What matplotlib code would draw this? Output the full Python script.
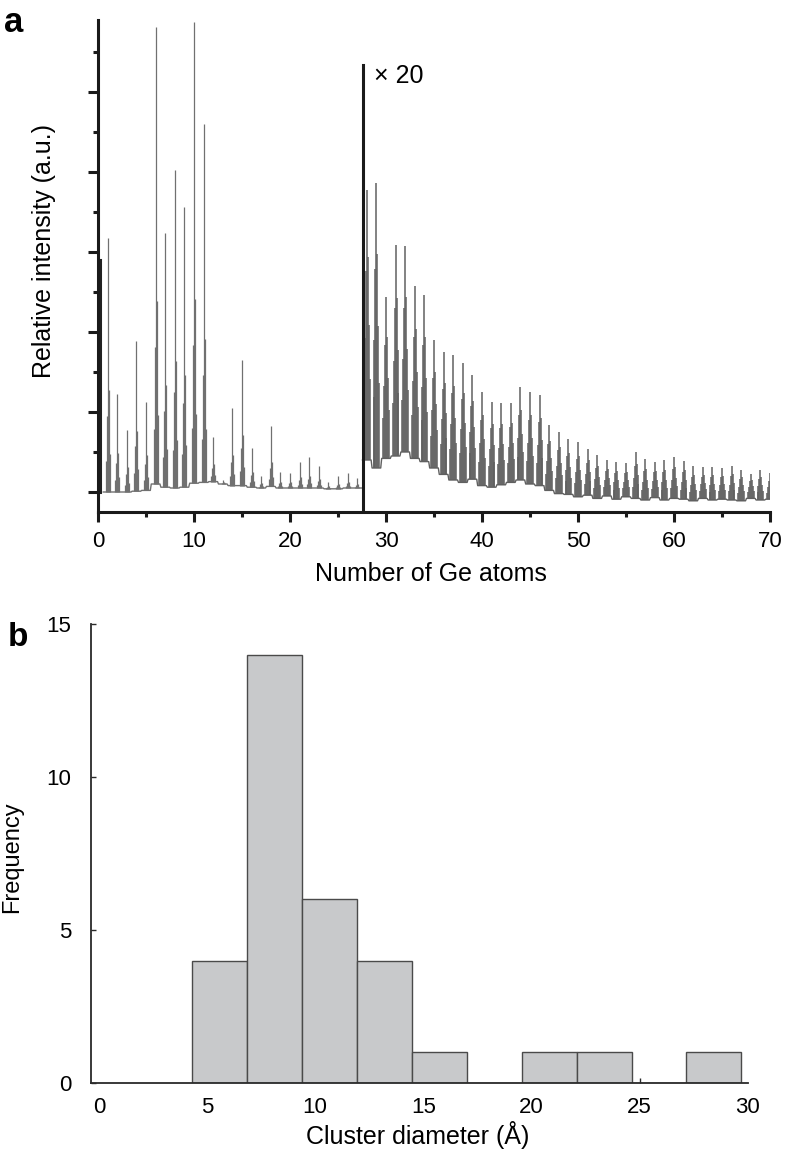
import numpy as np
import matplotlib
matplotlib.use('Agg')
from matplotlib import pyplot as plt
from matplotlib.ticker import MultipleLocator

plt.rcParams['font.family'] = ['Liberation Sans', 'DejaVu Sans']

# panel a: Ge cluster mass spectrum (peak heights per cluster size)
n_left = np.arange(1, 28)
peak_left = [3.18, 1.22, 0.77, 1.89, 1.13, 5.81, 3.24, 4.03, 3.56, 5.88,
             4.60, 0.69, 0.15, 1.05, 1.65, 0.55, 0.20, 0.83, 0.25, 0.24,
             0.38, 0.44, 0.33, 0.13, 0.20, 0.24, 0.17]
base_left = [0.00, 0.00, 0.00, 0.01, 0.02, 0.10, 0.06, 0.05, 0.06, 0.11,
             0.12, 0.13, 0.10, 0.08, 0.08, 0.06, 0.05, 0.07, 0.05, 0.05,
             0.05, 0.05, 0.05, 0.04, 0.04, 0.05, 0.05]

# region magnified x20
n_right = np.arange(28, 71)
peak_right = [3.78, 3.86, 2.44, 3.09, 3.08, 2.58, 2.46, 1.90, 1.75, 1.71,
              1.61, 1.46, 1.25, 1.12, 1.11, 1.11, 1.31, 1.25, 1.21, 0.84,
              0.75, 0.66, 0.62, 0.54, 0.46, 0.40, 0.38, 0.36, 0.50, 0.41,
              0.38, 0.40, 0.44, 0.39, 0.32, 0.31, 0.31, 0.30, 0.33, 0.28,
              0.23, 0.28, 0.24]
base_right = [0.40, 0.30, 0.42, 0.45, 0.50, 0.42, 0.38, 0.30, 0.22, 0.15,
              0.12, 0.16, 0.08, 0.06, 0.09, 0.12, 0.15, 0.10, 0.08, 0.02,
              -0.02, -0.03, -0.06, -0.04, -0.08, -0.05, -0.09, -0.06, -0.08, -0.10,
              -0.07, -0.10, -0.08, -0.09, -0.11, -0.08, -0.10, -0.09, -0.10, -0.11,
              -0.08, -0.10, -0.09]

split_at = 27.65
split_top = 5.34
extra_x, extra_h = 0.25, 2.9

# isotope patterns used to draw each cluster peak
iso_off_left = [-0.2, -0.1, 0.0, 0.1, 0.2]
iso_frac_left = [0.12, 0.3, 1.0, 0.4, 0.15]
iso_off_right = [-0.3, -0.2, -0.1, 0.0, 0.1, 0.2, 0.3]
iso_frac_right = [0.25, 0.45, 0.7, 1.0, 0.75, 0.5, 0.3]

# panel b: histogram of cluster diameters
bin_edges = [4.31, 6.85, 9.39, 11.93, 14.47, 17.01, 19.55, 22.09, 24.63, 27.17, 29.71]
counts = [4, 14, 6, 4, 1, 0, 1, 1, 0, 1]

fig = plt.figure(figsize=(7.88, 11.6), dpi=100)

ax = fig.add_axes([98 / 788, 1 - 512 / 1160, 672 / 788, 492 / 1160])

def draw_region(ns, peaks, bases, offs, fracs, lw, col):
    xs, ys = [], []
    for n, p, b in zip(ns, peaks, bases):
        xs += [n - 0.45, n + 0.45]
        ys += [b, b]
        for o, f in zip(offs, fracs):
            ax.plot([n + o, n + o], [b, b + f * (p - b)], color=col, lw=lw,
                    solid_capstyle='butt')
    ax.plot(xs, ys, color=col, lw=1.0)

draw_region(n_left, peak_left, base_left, iso_off_left, iso_frac_left, 0.9, '#707070')
draw_region(n_right, peak_right, base_right, iso_off_right, iso_frac_right, 1.1, '#606060')
ax.plot([extra_x, extra_x], [0, extra_h], color='#222222', lw=2.2)
ax.plot([split_at, split_at], [-0.25, split_top], color='#1a1a1a', lw=2.2)
ax.text(28.8, 5.2, '× 20', fontsize=18, va='center', ha='left')

ax.set_xlim(0, 70)
ax.set_ylim(-0.25, 5.9)
for s in ['top', 'right']:
    ax.spines[s].set_visible(False)
for s in ['left', 'bottom']:
    ax.spines[s].set_linewidth(2.2)
    ax.spines[s].set_color('#1a1a1a')
ax.xaxis.set_major_locator(MultipleLocator(10))
ax.xaxis.set_minor_locator(MultipleLocator(5))
ax.yaxis.set_major_locator(MultipleLocator(1))
ax.yaxis.set_minor_locator(MultipleLocator(0.5))
ax.tick_params(axis='both', which='major', direction='out', length=7, width=2.2,
               color='#1a1a1a', labelsize=16, pad=7)
ax.tick_params(axis='both', which='minor', direction='out', length=3.5, width=2.2,
               color='#1a1a1a')
ax.tick_params(axis='y', which='both', labelleft=False)
ax.set_xlabel('Number of Ge atoms', fontsize=18)
ax.xaxis.set_label_coords(0.496, -0.102)
ax.set_ylabel('Relative intensity (a.u.)', fontsize=18)
ax.yaxis.set_label_coords(-0.062, 0.53)

ax2 = fig.add_axes([90.7 / 788, 1 - 1083 / 1160, 657 / 788, 459 / 1160])
ax2.bar(bin_edges[:-1], counts, width=np.diff(bin_edges), align='edge',
        color='#c8c9cb', edgecolor='#4a4a4a', linewidth=1.0)
ax2.set_xlim(-0.38, 30)
ax2.set_ylim(0, 15)
for s in ['top', 'right']:
    ax2.spines[s].set_visible(False)
for s in ['left', 'bottom']:
    ax2.spines[s].set_linewidth(1.3)
    ax2.spines[s].set_color('#2a2a2a')
ax2.set_xticks([0, 5, 10, 15, 20, 25, 30])
ax2.set_yticks([0, 5, 10, 15])
ax2.tick_params(axis='both', direction='in', length=3.5, width=1.0,
                color='#2a2a2a', labelsize=16)
ax2.tick_params(axis='x', pad=10)
ax2.tick_params(axis='y', pad=14)
for t, v in zip(ax2.xaxis.get_major_ticks(), ax2.get_xticks()):
    t.tick1line.set_visible(v == 25)
ax2.set_xlabel('Cluster diameter (Å)', fontsize=18)
ax2.xaxis.set_label_coords(0.497, -0.082)
ax2.set_ylabel('Frequency', fontsize=17)
ax2.yaxis.set_label_coords(-0.103, 0.492)

fig.text(14 / 788, 1 - 22 / 1160, 'a', fontsize=25, fontweight='bold', ha='center', va='center')
fig.text(18 / 788, 1 - 637 / 1160, 'b', fontsize=24, fontweight='bold', ha='center', va='center')

fig.savefig('out.png', dpi=100)
